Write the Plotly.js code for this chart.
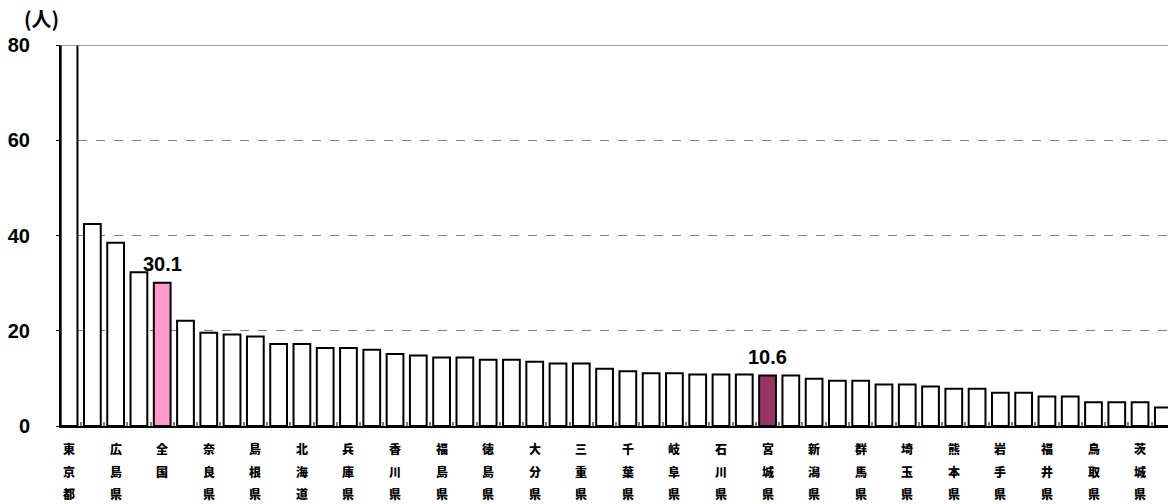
<!DOCTYPE html>
<html>
<head>
<meta charset="utf-8">
<script src="https://cdn.plot.ly/plotly-3.0.1.min.js"></script>
<style>html,body{margin:0;padding:0;background:#fff;}#chart{width:1168px;height:504px;}</style>
</head>
<body>
<div id="chart"></div>
<script>
// Category names (unlabeled bars in the source are left blank)
const tickLabels = [
  '東京都','', '広島県','', '全国','', '奈良県','', '島根県','', '北海道','',
  '兵庫県','', '香川県','', '福島県','', '徳島県','', '大分県','', '三重県','',
  '千葉県','', '岐阜県','', '石川県','', '宮城県','', '新潟県','', '群馬県','',
  '埼玉県','', '熊本県','', '岩手県','', '福井県','', '鳥取県','', '茨城県',''
];
// Values (人); the first bar runs off the top of the chart
const values = [
  100, 42.4, 38.5, 32.3, 30.1, 22.1, 19.6, 19.2, 18.8, 17.2, 17.2, 16.4,
  16.4, 16.0, 15.1, 14.8, 14.4, 14.4, 13.9, 13.9, 13.5, 13.1, 13.1, 12.0,
  11.5, 11.1, 11.1, 10.8, 10.8, 10.8, 10.6, 10.6, 9.9, 9.5, 9.5, 8.7,
  8.7, 8.3, 7.8, 7.8, 7.0, 7.0, 6.2, 6.2, 5.0, 5.0, 5.0, 3.9
];
const highlightNational = '全国';
const highlightLocal = '宮城県';
const yTicks = [0, 20, 40, 60, 80];

const positions = values.map((_, i) => i);
const idxNational = tickLabels.indexOf(highlightNational);
const idxLocal = tickLabels.indexOf(highlightLocal);
const fillColors = values.map((_, i) => i === idxNational ? '#FF99CC' : (i === idxLocal ? '#993366' : '#FFFFFF'));

const annotations = [];
const rowShift = [-22, -45, -67];
tickLabels.forEach((lab, i) => {
  if (!lab) return;
  Array.from(lab).forEach((ch, j) => {
    annotations.push({
      x: i, xref: 'x', y: 0, yref: 'paper', yanchor: 'middle', xanchor: 'center',
      yshift: rowShift[j], text: ch, showarrow: false,
      font: {family: '"Noto Sans CJK JP", sans-serif', size: 12, weight: 900, color: '#000'}
    });
  });
});
[idxNational, idxLocal].forEach(i => {
  annotations.push({
    x: i, y: values[i], xref: 'x', yref: 'y', yanchor: 'bottom', xanchor: 'center',
    yshift: 6, text: values[i].toFixed(1), showarrow: false,
    font: {family: '"Liberation Sans", Arial, sans-serif', size: 20, weight: 700, color: '#000'}
  });
});
annotations.push({
  x: 0, xref: 'paper', xanchor: 'center', xshift: -19,
  y: 1, yref: 'paper', yanchor: 'bottom', yshift: 10,
  text: '(人)', showarrow: false,
  font: {family: '"Noto Sans CJK JP", sans-serif', size: 20, weight: 700, color: '#000'}
});

const trace = {
  type: 'bar', x: positions, y: values,
  marker: {color: fillColors, line: {color: '#000', width: 2}},
  hoverinfo: 'skip', cliponaxis: true
};

const layout = {
  width: 1168, height: 504,
  margin: {l: 60, r: 0, t: 45, b: 78},
  paper_bgcolor: '#fff', plot_bgcolor: '#fff',
  showlegend: false, bargap: 0.28,
  xaxis: {
    range: [-0.39, 47.2], showgrid: false, zeroline: false,
    showline: true, linecolor: '#000', linewidth: 2,
    tickvals: positions.map(p => p + 0.5), ticktext: positions.map(() => ''),
    ticks: 'inside', ticklen: 4, tickwidth: 2, tickcolor: '#808080',
    showticklabels: false, fixedrange: true
  },
  yaxis: {
    range: [0, 80], tickvals: yTicks, ticktext: yTicks.map(String),
    showgrid: true, gridcolor: '#808080', griddash: 'dash', gridwidth: 1,
    zeroline: false, showline: true, linecolor: '#000', linewidth: 1,
    ticks: 'outside', ticklen: 3, tickcolor: '#000', ticklabelstandoff: 22,
    tickfont: {family: '"Liberation Sans", Arial, sans-serif', size: 20, weight: 700, color: '#000'},
    fixedrange: true
  },
  shapes: [{
    type: 'line', xref: 'paper', yref: 'y', x0: 0, x1: 1, y0: 80, y1: 80,
    line: {color: '#808080', width: 1.5}, layer: 'above'
  }],
  annotations: annotations
};

Plotly.newPlot('chart', [trace], layout, {displayModeBar: false, staticPlot: true});
</script>
</body>
</html>
